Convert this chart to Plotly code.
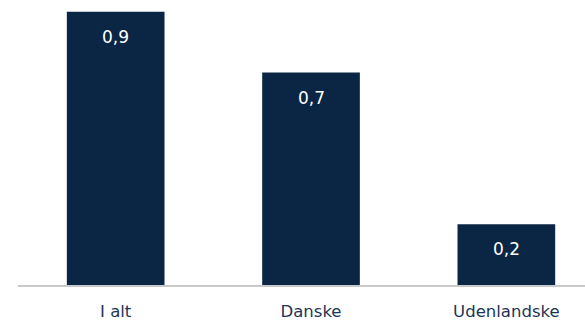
import plotly.graph_objects as go

kategorier = ["I alt", "Danske", "Udenlandske"]
vaerdier = [0.9, 0.7, 0.2]
etiketter = ["0,9", "0,7", "0,2"]

navy = "#0B2545"

fig = go.Figure()

fig.add_trace(go.Bar(
    x=kategorier,
    y=vaerdier,
    marker=dict(color=navy, line=dict(width=0)),
    width=0.5,
    showlegend=False,
    hoverinfo="skip",
))

# Værdier placeret inde i søjlerne, tæt på toppen
for k, v, t in zip(kategorier, vaerdier, etiketter):
    fig.add_annotation(
        x=k, y=v, text=t, showarrow=False,
        yanchor="top", yshift=-13,
        font=dict(color="white", size=17, family="DejaVu Sans"),
    )

fig.update_layout(
    width=585, height=321,
    margin=dict(l=18, r=0, t=0, b=33),
    plot_bgcolor="white",
    paper_bgcolor="white",
    font=dict(family="DejaVu Sans", color="#1c3556"),
    bargap=0.5,
)

fig.update_xaxes(
    range=[-0.5, 2.4026],
    showline=True, linecolor="#c9c9c9", linewidth=2,
    ticks="outside", ticklen=10, tickcolor="rgba(0,0,0,0)",
    tickfont=dict(size=16.5, color="#1c3556"),
    showgrid=False,
)
fig.update_yaxes(
    range=[0, 0.939],
    visible=False,
    showgrid=False,
)

fig.write_html(
    "out.html",
    config={"displayModeBar": False},
    post_script="document.body.style.margin='0';",
)
